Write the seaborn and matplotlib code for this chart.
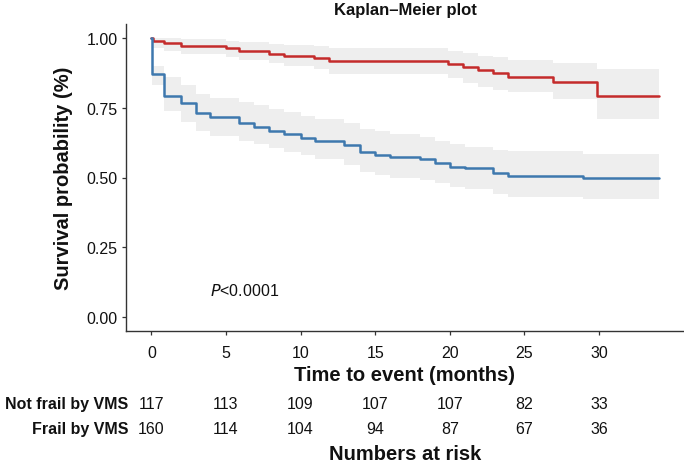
import numpy as np
import pandas as pd
import seaborn as sns
from matplotlib import pyplot as plt
from matplotlib.transforms import blended_transform_factory

# Not frail by VMS (red)
time_nf = [0, 0.1, 0.85, 2.0, 5.0, 5.9, 7.9, 8.9, 10.9, 11.9, 19.9, 20.9, 21.9, 22.9, 23.9, 26.9, 29.9, 34]
surv_nf = [1.0, 0.990, 0.981, 0.970, 0.963, 0.953, 0.944, 0.934, 0.928, 0.918, 0.908, 0.897, 0.885, 0.873, 0.860, 0.843, 0.792, 0.792]
upper_nf = [1.0, 1.0, 1.0, 0.995, 0.99, 0.985, 0.98, 0.975, 0.97, 0.965, 0.955, 0.945, 0.935, 0.93, 0.922, 0.912, 0.89, 0.89]
lower_nf = [1.0, 0.965, 0.955, 0.942, 0.932, 0.922, 0.91, 0.90, 0.89, 0.87, 0.855, 0.84, 0.825, 0.815, 0.805, 0.78, 0.71, 0.71]

# Frail by VMS (blue)
time_f = [0, 0.05, 0.85, 2.0, 3.0, 3.9, 5.9, 6.9, 7.9, 8.9, 10.0, 11.0, 12.9, 14.0, 15.0, 16.0, 18.0, 19.0, 20.0, 21.0, 22.9, 23.9, 28.9, 34]
surv_f = [1.0, 0.871, 0.791, 0.766, 0.730, 0.716, 0.695, 0.682, 0.668, 0.656, 0.643, 0.632, 0.617, 0.592, 0.582, 0.575, 0.565, 0.551, 0.538, 0.533, 0.517, 0.507, 0.498, 0.498]
upper_f = [1.0, 0.90, 0.86, 0.83, 0.80, 0.785, 0.77, 0.76, 0.745, 0.735, 0.72, 0.71, 0.695, 0.675, 0.665, 0.655, 0.645, 0.63, 0.62, 0.61, 0.60, 0.595, 0.585, 0.585]
lower_f = [1.0, 0.83, 0.74, 0.70, 0.665, 0.65, 0.63, 0.62, 0.605, 0.59, 0.58, 0.565, 0.545, 0.52, 0.51, 0.50, 0.49, 0.48, 0.465, 0.46, 0.44, 0.43, 0.424, 0.424]

# numbers at risk
risk_times = [0, 5, 10, 15, 20, 25, 30]
risk_nf = [117, 113, 109, 107, 107, 82, 33]
risk_f = [160, 114, 104, 94, 87, 67, 36]
groups = ["Not frail by VMS", "Frail by VMS"]

red = "#C42B2B"
blue = "#3E78AE"
band = "#EEEEEE"
ink = "#111111"

sns.set_theme(style="ticks")
plt.rcParams['font.family'] = ['Liberation Sans', 'DejaVu Sans']

fig = plt.figure(figsize=(6.84, 4.64), dpi=100)
ax = fig.add_axes([126 / 684, 1 - 332 / 464, 1 - 126 / 684, (332 - 25) / 464])

ax.fill_between(time_nf, lower_nf, upper_nf, step="post", color=band, lw=0)
ax.fill_between(time_f, lower_f, upper_f, step="post", color=band, lw=0)

df = pd.concat([
    pd.DataFrame({"time": time_nf, "surv": surv_nf, "group": groups[0]}),
    pd.DataFrame({"time": time_f, "surv": surv_f, "group": groups[1]}),
])
sns.lineplot(data=df, x="time", y="surv", hue="group", palette=[red, blue],
             estimator=None, sort=False, drawstyle="steps-post", linewidth=1.8,
             legend=False, ax=ax)

ax.set_xlim(-1.7, 35.7)
ax.set_ylim(-0.05, 1.05)
ax.set_xticks(risk_times)
ax.set_yticks([0, 0.25, 0.5, 0.75, 1.0])
ax.set_yticklabels(["0.00", "0.25", "0.50", "0.75", "1.00"])
ax.tick_params(axis="both", length=3, width=0.9, color="#333333", labelsize=11.5,
               labelcolor=ink, pad=3)
ax.tick_params(axis="x", pad=7)
for s in ["left", "bottom"]:
    ax.spines[s].set_color("#333333")
    ax.spines[s].set_linewidth(1.0)
sns.despine(ax=ax)

ax.set_xlabel("Time to event (months)", fontsize=14.5, fontweight="bold", labelpad=4, color=ink)
ax.set_ylabel("Survival probability (%)", fontsize=14.5, fontweight="bold", labelpad=10, color=ink)
ax.set_title("Kaplan\u2013Meier plot", fontsize=12, fontweight="bold", pad=7, color=ink)

ax.text(3.9, 0.098, "$\\it{P}$<0.0001", fontsize=11.5, va="center", ha="left", color=ink)

# risk table under the plot
tr = blended_transform_factory(ax.transData, fig.transFigure)
for row_y, name, counts in [(1 - 405 / 464, groups[0], risk_nf), (1 - 430 / 464, groups[1], risk_f)]:
    fig.text(128 / 684, row_y, name, ha="right", va="center", fontsize=11.5,
             fontweight="bold", color=ink)
    for t, n in zip(risk_times, counts):
        ax.text(t, row_y, str(n), transform=tr, ha="center", va="center", fontsize=11.5,
                color=ink)

ax.text(0.5, 1 - 455 / 464, "Numbers at risk", transform=blended_transform_factory(ax.transAxes, fig.transFigure),
        ha="center", va="center", fontsize=14.5, fontweight="bold", color=ink)

fig.savefig("out.png", dpi=100)
